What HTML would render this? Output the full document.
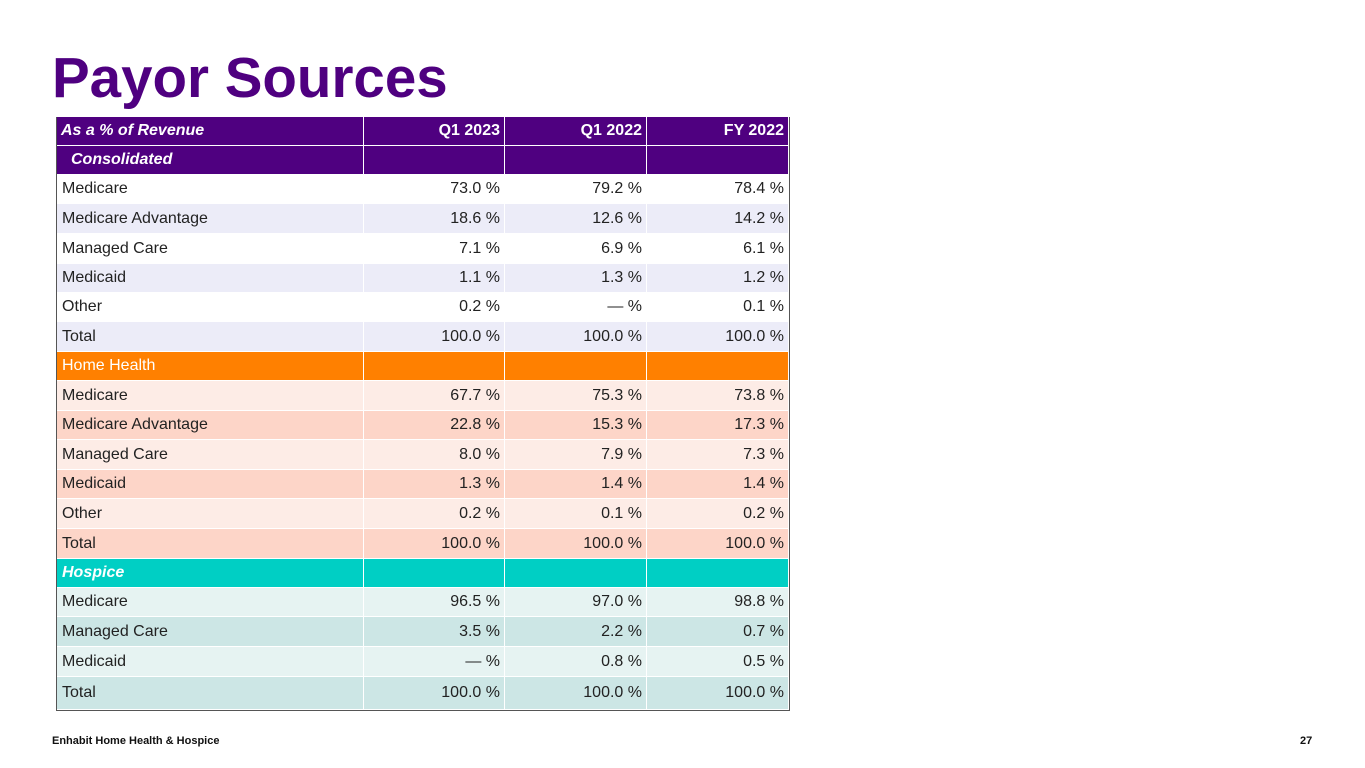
<!DOCTYPE html>
<html><head><meta charset="utf-8"><style>
body{margin:0;width:1365px;height:768px;background:#fff;position:relative;overflow:hidden;font-family:"Liberation Sans",Arial,sans-serif}
#title{position:absolute;left:52px;top:45px;font-size:56.5px;font-weight:bold;color:#4F0080;margin:0;line-height:66px}
.c{position:absolute;box-sizing:border-box;font-size:16px;color:#222;display:flex;align-items:center;border-right:1.5px solid #fff;border-bottom:1.5px solid #fff}
.l{padding-left:5px}
.r{justify-content:flex-end;padding-right:4px}
#frame{position:absolute;left:56px;top:117px;width:734px;height:594px;border:1px solid #555;border-top:none;box-sizing:border-box;pointer-events:none}
.foot{position:absolute;top:735px;font-size:11px;font-weight:bold;color:#111}
</style></head><body>
<h1 id="title">Payor Sources</h1>
<div id="tbl"></div>
<div id="frame"></div>
<div class="foot" style="left:52px">Enhabit Home Health &amp; Hospice</div>
<div class="foot" style="left:1300px">27</div>
<script>
const headers=["As a % of Revenue","Q1 2023","Q1 2022","FY 2022"];
const rowLabels=["Consolidated","Medicare","Medicare Advantage","Managed Care","Medicaid","Other","Total","Home Health","Medicare","Medicare Advantage","Managed Care","Medicaid","Other","Total","Hospice","Medicare","Managed Care","Medicaid","Total"];
const q12023=["","73.0 %","18.6 %","7.1 %","1.1 %","0.2 %","100.0 %","","67.7 %","22.8 %","8.0 %","1.3 %","0.2 %","100.0 %","","96.5 %","3.5 %","— %","100.0 %"];
const q12022=["","79.2 %","12.6 %","6.9 %","1.3 %","— %","100.0 %","","75.3 %","15.3 %","7.9 %","1.4 %","0.1 %","100.0 %","","97.0 %","2.2 %","0.8 %","100.0 %"];
const fy2022=["","78.4 %","14.2 %","6.1 %","1.2 %","0.1 %","100.0 %","","73.8 %","17.3 %","7.3 %","1.4 %","0.2 %","100.0 %","","98.8 %","0.7 %","0.5 %","100.0 %"];
const tops=[117,146,175,204,234,264,293,322,352,381,411,440,470,499,529,559,588,617,647,677,710];
const xs=[57,364,505,647,789];
const tbl=document.getElementById('tbl');
function styleFor(i){
  if(i<0) return {bg:'#4F0080',fg:'#fff',b:'bold'};
  if(i===0) return {bg:'#4F0080',fg:'#fff',b:'bold',it:true};
  if(i<7) return {bg:(i%2?'#fff':'#ECECF8'),fg:'#222'};
  if(i===7) return {bg:'#FF8000',fg:'#fff'};
  if(i<14) return {bg:(i%2?'#FDD5C8':'#FDECE6'),fg:'#222'};
  if(i===14) return {bg:'#00CFC4',fg:'#fff',b:'bold',it:true};
  return {bg:(i%2?'#E6F3F2':'#CCE6E5'),fg:'#222'};
}
function cell(text,ci,ri,st,name){
  const d=document.createElement('div');
  d.className='c '+(ci===0?'l':'r');
  d.style.left=xs[ci]+'px';d.style.width=(xs[ci+1]-xs[ci])+'px';
  d.style.top=tops[ri+1]+'px';d.style.height=(tops[ri+2]-tops[ri+1])+'px';
  d.style.background=st.bg;d.style.color=st.fg;
  if(st.b)d.style.fontWeight='bold';if(st.it)d.style.fontStyle='italic';
  if(ci===0&&ri===0)d.style.paddingLeft='14px';
  if(ci===0&&ri===-1){d.style.paddingLeft='4px';d.style.fontStyle='italic';}
  d.textContent=text;
  
  
  tbl.appendChild(d);
}
headers.forEach((h,ci)=>cell(h,ci,-1,styleFor(-1),'header-'+ci));
rowLabels.forEach((lab,i)=>{
  const st=styleFor(i);
  cell(lab,0,i,st,'row-label-'+i);
  cell(q12023[i],1,i,st,'q1-2023-'+i);
  cell(q12022[i],2,i,st,'q1-2022-'+i);
  cell(fy2022[i],3,i,st,'fy-2022-'+i);
});
</script>
</body></html>
